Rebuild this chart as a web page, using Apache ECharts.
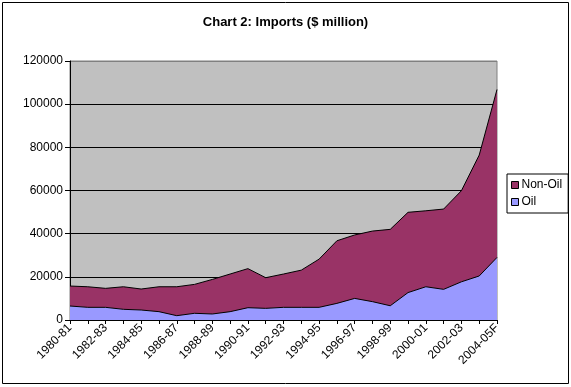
<!DOCTYPE html>
<html>
<head>
<meta charset="utf-8">
<script src="https://cdn.jsdelivr.net/npm/echarts@6/dist/echarts.min.js"></script>
<style>
html,body{margin:0;padding:0;background:#fff;}
#c{width:571px;height:387px;}
</style>
</head>
<body>
<div id="c"></div>
<script>
var categories = ["1980-81","1981-82","1982-83","1983-84","1984-85","1985-86","1986-87","1987-88","1988-89","1989-90","1990-91","1991-92","1992-93","1993-94","1994-95","1995-96","1996-97","1997-98","1998-99","1999-00","2000-01","2001-02","2002-03","2003-04","2004-05F"];
var oil = [6480,5870,5870,4950,4630,3860,2000,3100,2780,3860,5700,5400,5870,5870,5870,7700,10000,8500,6600,12700,15400,14200,17700,20400,29000];
var nonOil = [9260,9530,8790,10450,9720,11540,13400,13400,16020,17440,18100,14200,15430,17230,22330,29000,29400,32700,35400,37200,35200,37200,42200,56000,77800];
var yTicks = [0,20000,40000,60000,80000,100000,120000];

var chart = echarts.init(document.getElementById('c'), null, {renderer:'canvas'});
var font = '"Liberation Sans", Arial, sans-serif';
chart.setOption({
  animation:false,
  backgroundColor:'#fff',
  textStyle:{fontFamily:font},
  graphic:[{type:'rect', shape:{x:2.5,y:2.5,width:566,height:381}, style:{fill:null, stroke:'#000', lineWidth:1}, silent:true, z:-1}],
  title:{text:'Chart 2: Imports ($ million)', left:'center', top:11,
    textStyle:{fontFamily:font, fontSize:13, fontWeight:'bold', color:'#000'}},
  grid:{left:70, right:74, top:61, bottom:67, show:true, backgroundColor:'#C0C0C0', borderColor:'#808080', borderWidth:1},
  legend:{orient:'vertical', left:507, top:174, data:['Non-Oil','Oil'],
    icon:'rect', itemWidth:7, itemHeight:7, itemGap:5,
    itemStyle:{borderColor:'#000', borderWidth:1},
    borderColor:'#000', borderWidth:1, padding:[5,6,5,4],
    textStyle:{fontFamily:font, fontSize:12, color:'#000', padding:[0,0,0,-2]}},
  xAxis:{type:'category', data:categories, boundaryGap:false,
    axisLine:{lineStyle:{color:'#000', width:1}},
    axisTick:{show:true, interval:0, length:4, lineStyle:{color:'#000'}},
    axisLabel:{interval:1, rotate:45, fontFamily:font, fontSize:12, color:'#000', margin:6},
    splitLine:{show:false}},
  yAxis:{type:'value', min:0, max:120000, interval:20000,
    axisLine:{show:true, lineStyle:{color:'#000', width:1}},
    axisTick:{show:true, length:5, lineStyle:{color:'#000'}},
    axisLabel:{fontFamily:font, fontSize:12, color:'#000', margin:7,
      formatter:function(v){return yTicks.indexOf(v)>=0 ? String(v) : '';}},
    splitLine:{show:true, lineStyle:{color:['#000','#000','#000','#000','#000','#000','#808080'], width:1}}},
  series:[
    {name:'Oil', type:'line', stack:'t', data:oil, symbol:'none',
     lineStyle:{color:'#000', width:1}, itemStyle:{color:'#9999FF'},
     areaStyle:{color:'#9999FF', opacity:1}},
    {name:'Non-Oil', type:'line', stack:'t', data:nonOil, symbol:'none',
     lineStyle:{color:'#000', width:1}, itemStyle:{color:'#993366'},
     areaStyle:{color:'#993366', opacity:1}}
  ]
});
</script>
</body>
</html>
